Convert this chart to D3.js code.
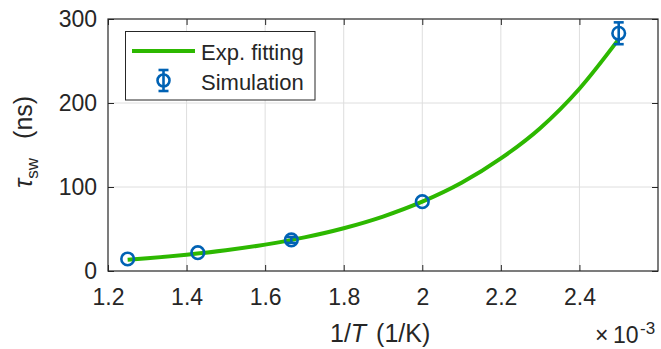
<!DOCTYPE html>
<html>
<head>
<meta charset="utf-8">
<script src="https://cdn.jsdelivr.net/npm/d3@7"></script>
<style>
  html, body { margin: 0; padding: 0; background: #fff; }
  svg { display: block; }
  text { font-family: "Liberation Sans", Arial, sans-serif; fill: #262626; }
</style>
</head>
<body>
<svg id="chart" width="661" height="349"></svg>
<script>
// Simulated switching time vs inverse temperature (x in units of 1e-3 1/K)
const simX = [1.25, 1.4286, 1.6667, 2.0, 2.5];
const simY = [14.3, 21.8, 37.0, 82.5, 283];
const simErr = [0, 0, 3.5, 0, 13];

// Exponential fit curve, sampled along x
const fitX = [1.25, 1.3, 1.4, 1.5, 1.6, 1.7, 1.8, 1.9, 2.0, 2.1, 2.2, 2.3, 2.4, 2.5];
const fitY = [13.5, 15.2, 19.4, 24.7, 31.4, 40.0, 50.9, 64.8, 82.5, 105, 134, 170, 217, 276];

const xTicks = [1.2, 1.4, 1.6, 1.8, 2.0, 2.2, 2.4];
const yTicks = [0, 100, 200, 300];

const margin = { left: 108, right: 658, top: 19, bottom: 271 };
const ink = "#262626";
const green = "#2db800";
const blue = "#0062b4";
const font = '"Liberation Sans", Arial, sans-serif';

const svg = d3.select("#chart");
const x = d3.scaleLinear().domain([1.2, 2.6]).range([margin.left, margin.right]);
const y = d3.scaleLinear().domain([0, 300]).range([margin.bottom, margin.top]);

// grid
const grid = svg.append("g").attr("stroke", "#dedede").attr("stroke-width", 1);
grid.selectAll("line.gx").data(xTicks.slice(1)).join("line")
  .attr("x1", d => x(d)).attr("x2", d => x(d))
  .attr("y1", margin.top).attr("y2", margin.bottom);
grid.selectAll("line.gy").data(yTicks.slice(1, -1)).join("line")
  .attr("x1", margin.left).attr("x2", margin.right)
  .attr("y1", d => y(d)).attr("y2", d => y(d));

// axes (inward ticks, mirrored on top/right)
const tickLen = 6;
const fmtX = d => d3.format("")(+d.toFixed(1));
svg.append("g").attr("transform", `translate(0,${margin.bottom})`)
  .call(d3.axisBottom(x).tickValues(xTicks).tickSizeInner(-tickLen).tickSizeOuter(0).tickPadding(18).tickFormat(fmtX))
  .call(g => g.select(".domain").remove());
svg.append("g").attr("transform", `translate(0,${margin.top})`)
  .call(d3.axisTop(x).tickValues(xTicks).tickSizeInner(-tickLen).tickSizeOuter(0).tickFormat(""))
  .call(g => g.select(".domain").remove());
svg.append("g").attr("transform", `translate(${margin.left},0)`)
  .call(d3.axisLeft(y).tickValues(yTicks).tickSizeInner(-tickLen).tickSizeOuter(0).tickPadding(11))
  .call(g => g.select(".domain").remove());
svg.append("g").attr("transform", `translate(${margin.right},0)`)
  .call(d3.axisRight(y).tickValues(yTicks).tickSizeInner(-tickLen).tickSizeOuter(0).tickFormat(""))
  .call(g => g.select(".domain").remove());

svg.selectAll(".tick line").attr("stroke", ink).attr("stroke-width", 1);
svg.selectAll(".tick text").attr("font-size", 23).attr("fill", ink).style("font-family", font);

svg.append("rect")
  .attr("x", margin.left).attr("y", margin.top)
  .attr("width", margin.right - margin.left).attr("height", margin.bottom - margin.top)
  .attr("fill", "none").attr("stroke", ink).attr("stroke-width", 1.2);

// fit curve
const line = d3.line().x(d => x(d[0])).y(d => y(d[1])).curve(d3.curveMonotoneX);
svg.append("path")
  .datum(fitX.map((v, i) => [v, fitY[i]]))
  .attr("d", line).attr("fill", "none")
  .attr("stroke", green).attr("stroke-width", 4);

// simulation points with error bars
const pts = svg.append("g").attr("stroke", blue).attr("fill", "none").attr("stroke-width", 2.6);
simX.forEach((v, i) => {
  const cx = x(v), e = simErr[i];
  if (e > 0) {
    const y1 = y(simY[i] + e), y2 = y(simY[i] - e);
    pts.append("line").attr("x1", cx).attr("x2", cx).attr("y1", y1).attr("y2", y2);
    pts.append("line").attr("x1", cx - 5).attr("x2", cx + 5).attr("y1", y1).attr("y2", y1);
    pts.append("line").attr("x1", cx - 5).attr("x2", cx + 5).attr("y1", y2).attr("y2", y2);
  }
  pts.append("circle").attr("cx", cx).attr("cy", y(simY[i])).attr("r", 6.3);
});

// x axis label
svg.append("text")
  .attr("x", 330).attr("y", 342).attr("font-size", 25)
  .call(t => {
    t.append("tspan").text("1/");
    t.append("tspan").attr("font-style", "italic").text("T");
    t.append("tspan").attr("dx", 3).text(" (1/K)");
  });

// y axis label
svg.append("text")
  .attr("transform", "translate(32,188) rotate(-90)")
  .attr("font-size", 25)
  .call(t => {
    t.append("tspan").attr("font-style", "italic").text("τ");
    t.append("tspan").attr("font-size", 17).attr("dy", 6).text("sw");
    t.append("tspan").attr("dy", -6).attr("dx", 12).text(" (ns)");
  });

// exponent multiplier
svg.append("text").attr("x", 595).attr("y", 343).attr("font-size", 23).text("×");
svg.append("text").attr("x", 613).attr("y", 343).attr("font-size", 23).text("10");
svg.append("text").attr("x", 640).attr("y", 334).attr("font-size", 17).text("-3");

// legend
const lg = svg.append("g");
lg.append("rect").attr("x", 125.5).attr("y", 31.5).attr("width", 189.5).attr("height", 68.5)
  .attr("fill", "#fff").attr("stroke", ink).attr("stroke-width", 1);
lg.append("line").attr("x1", 132).attr("x2", 195).attr("y1", 51).attr("y2", 51)
  .attr("stroke", green).attr("stroke-width", 4);
lg.append("text").attr("x", 201).attr("y", 59.5).attr("font-size", 22).text("Exp. fitting");
const lm = lg.append("g").attr("stroke", blue).attr("stroke-width", 2.6).attr("fill", "none");
lm.append("line").attr("x1", 163.5).attr("x2", 163.5).attr("y1", 70).attr("y2", 91);
lm.append("line").attr("x1", 158.5).attr("x2", 168.5).attr("y1", 70).attr("y2", 70);
lm.append("line").attr("x1", 158.5).attr("x2", 168.5).attr("y1", 91).attr("y2", 91);
lm.append("circle").attr("cx", 163.5).attr("cy", 80.5).attr("r", 6);
lg.append("text").attr("x", 201).attr("y", 90).attr("font-size", 22).text("Simulation");
</script>
</body>
</html>
